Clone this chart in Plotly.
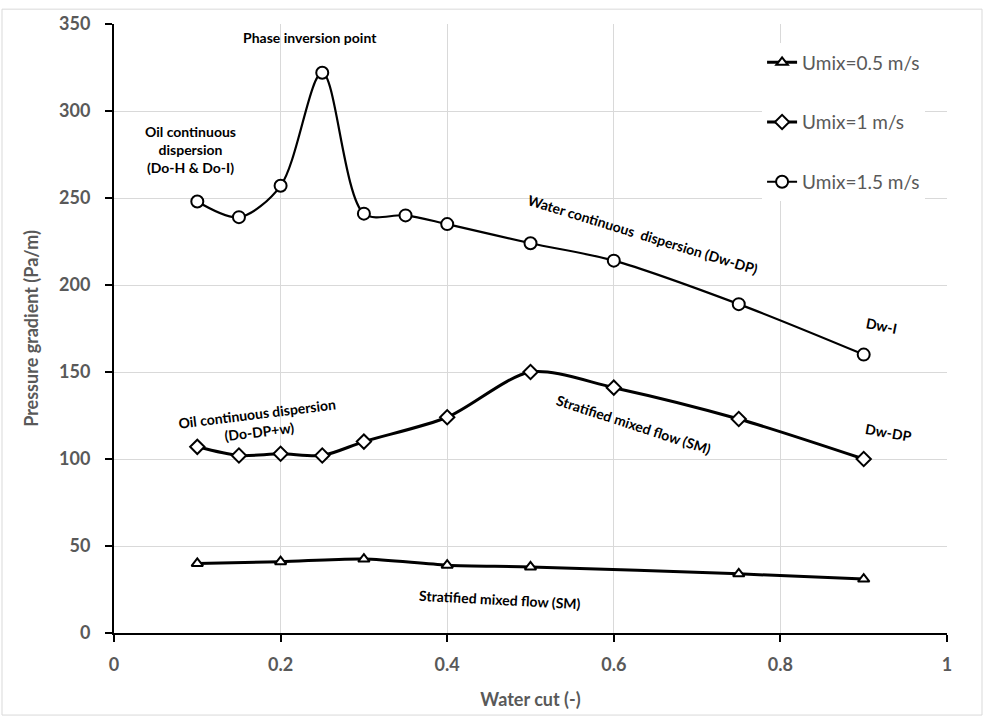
import plotly.graph_objects as go

# Data
x_05 = [0.1, 0.2, 0.3, 0.4, 0.5, 0.75, 0.9]
y_05 = [40, 41, 42.5, 39, 38, 34, 31]

x_10 = [0.1, 0.15, 0.2, 0.25, 0.3, 0.4, 0.5, 0.6, 0.75, 0.9]
y_10 = [107, 102, 103, 102, 110, 124, 150, 141, 123, 100]

x_15 = [0.1, 0.15, 0.2, 0.25, 0.3, 0.35, 0.4, 0.5, 0.6, 0.75, 0.9]
y_15 = [248, 239, 257, 322, 241, 240, 235, 224, 214, 189, 160]

names = ["Umix=0.5 m/s", "Umix=1 m/s", "Umix=1.5 m/s"]
x_ticks = [0, 0.2, 0.4, 0.6, 0.8, 1]
x_ticklabels = ["0", "0.2", "0.4", "0.6", "0.8", "1"]
y_ticks = [0, 50, 100, 150, 200, 250, 300, 350]

GRAY = "#595959"
FONT = "Lato"

fig = go.Figure()
fig.add_trace(go.Scatter(
    x=x_05, y=y_05, name=names[0], mode="lines+markers", legendgroup="a",
    line=dict(color="black", width=3, shape="spline", smoothing=0.8),
    marker=dict(symbol="triangle-up", size=10, color="white",
                line=dict(color="black", width=2))))
fig.add_trace(go.Scatter(
    x=x_10, y=y_10, name=names[1], mode="lines+markers", legendgroup="b",
    line=dict(color="black", width=3, shape="spline", smoothing=0.8),
    marker=dict(symbol="diamond", size=11, color="white",
                line=dict(color="black", width=2))))
fig.add_trace(go.Scatter(
    x=x_15, y=y_15, name=names[2], mode="lines+markers", legendgroup="c",
    line=dict(color="black", width=2.2, shape="spline", smoothing=0.9),
    marker=dict(symbol="circle", size=12, color="white",
                line=dict(color="black", width=2))))

ann_font = dict(family=FONT, size=14, color="black", weight="bold")
annotations = [
    dict(x=0.235, y=342, text="Phase inversion point", textangle=0),
    dict(x=0.092, y=278, text="Oil continuous<br>dispersion<br>(Do-H &amp; Do-I)", textangle=0),
    dict(x=0.635, y=229, text="Water continuous  dispersion (Dw-DP)", textangle=17),
    dict(x=0.921, y=177, text="Dw-I", textangle=11),
    dict(x=0.930, y=115, text="Dw-DP", textangle=10),
    dict(x=0.624, y=120, text="Stratified mixed flow (SM)", textangle=18),
    dict(x=0.173, y=121, text="Oil continuous dispersion<br>(Do-DP+w)", textangle=-7),
    dict(x=0.463, y=19, text="Stratified mixed flow (SM)", textangle=3),
]
for a in annotations:
    fig.add_annotation(x=a["x"], y=a["y"], text=a["text"], textangle=a["textangle"],
                       showarrow=False, font=ann_font, xref="x", yref="y")

# Outer chart border
L, R, T, B = 114, 38, 17, 86
W, H = 985, 719
pw, ph = W - L - R, H - T - B
fig.add_shape(type="rect", xref="paper", yref="paper",
              x0=(2 - L) / pw, x1=(W - 3 - L) / pw,
              y0=-(B - 3) / ph, y1=1 + (T - 2) / ph,
              line=dict(color="#d9d9d9", width=1), layer="below")

fig.update_layout(
    width=W, height=H,
    margin=dict(l=L, r=R, t=T, b=B),
    paper_bgcolor="white", plot_bgcolor="white",
    font=dict(family=FONT, color=GRAY),
    showlegend=True,
    legend=dict(x=0.778, y=0.968, xanchor="left", yanchor="top",
                bgcolor="white", font=dict(family=FONT, size=19, color=GRAY),
                tracegroupgap=32, itemwidth=30),
    xaxis=dict(range=[0, 1], tickvals=x_ticks, ticktext=x_ticklabels,
               showgrid=True, gridcolor="#d9d9d9", gridwidth=1,
               showline=True, linecolor="black", linewidth=2,
               ticks="outside", ticklen=7, tickcolor="black", tickwidth=1.5,
               ticklabelstandoff=7,
               tickfont=dict(family=FONT, size=18, color=GRAY, weight="bold"),
               title=dict(text="Water cut (-)", standoff=20,
                          font=dict(family=FONT, size=18, color=GRAY, weight="bold")),
               zeroline=False),
    yaxis=dict(range=[0, 350], tickvals=y_ticks,
               showgrid=True, gridcolor="#d9d9d9", gridwidth=1,
               showline=True, linecolor="black", linewidth=2,
               ticks="outside", ticklen=7, tickcolor="black", tickwidth=1.5,
               ticklabelstandoff=11,
               tickfont=dict(family=FONT, size=18, color=GRAY, weight="bold"),
               title=dict(text="Pressure gradient (Pa/m)", standoff=16,
                          font=dict(family=FONT, size=18, color=GRAY, weight="bold")),
               zeroline=False),
)

fig.write_html("out.html")
